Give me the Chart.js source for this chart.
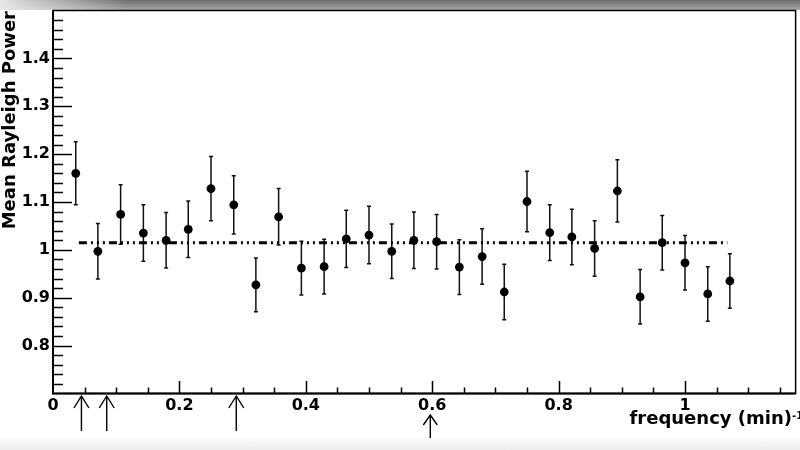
<!DOCTYPE html>
<html lang="en">
<head>
    <meta charset="UTF-8">
    <title>Mean Rayleigh Power</title>
    <script src="https://cdn.jsdelivr.net/npm/chart.js"></script>
    <style>
        html, body { margin: 0; padding: 0; background: #fff; }
        .wrap { position: relative; width: 800px; height: 450px; overflow: hidden; background: #fff; }
        .band-top { position: absolute; left: 0; top: 0; width: 800px; height: 10px;
            background: linear-gradient(to right, rgba(235,235,235,0.95), rgba(235,235,235,0) 16%),
                        linear-gradient(#6c6c6c, #a6a6a6); }
        .band-bottom { position: absolute; left: 0; top: 438px; width: 800px; height: 12px;
            background: linear-gradient(#fbfbfb, #ececec); }
        canvas { position: absolute; left: 0; top: 0; }
    </style>
</head>
<body>
<div class="wrap">
    <div class="band-top"></div>
    <div class="band-bottom"></div>
    <canvas id="rayleighChart" width="800" height="450"></canvas>
</div>
<script>
// frequency bins (min^-1) and the mean Rayleigh power in each, with 1 sigma errors
const freq = [0.036, 0.071, 0.107, 0.143, 0.179, 0.214, 0.250, 0.286, 0.321, 0.357,
              0.393, 0.429, 0.464, 0.500, 0.536, 0.571, 0.607, 0.643, 0.679, 0.714,
              0.750, 0.786, 0.821, 0.857, 0.893, 0.929, 0.964, 1.000, 1.036, 1.071];
const power = [1.160, 0.997, 1.074, 1.035, 1.020, 1.043, 1.128, 1.094, 0.927, 1.069,
               0.962, 0.965, 1.023, 1.031, 0.997, 1.020, 1.017, 0.964, 0.986, 0.912,
               1.101, 1.036, 1.027, 1.003, 1.123, 0.902, 1.015, 0.973, 0.908, 0.935];
const powerErr = [0.066, 0.058, 0.062, 0.059, 0.058, 0.059, 0.067, 0.061, 0.056, 0.059,
                  0.056, 0.057, 0.060, 0.060, 0.057, 0.059, 0.057, 0.057, 0.058, 0.058,
                  0.063, 0.058, 0.058, 0.058, 0.065, 0.057, 0.057, 0.057, 0.057, 0.057];

// average level (dash-dot-dot-dot line) and the span it covers
const meanLevel = 1.015;
const meanFrom = 0.041;
const meanTo = 1.067;

// marked frequencies (arrows under the axis)
const arrowFreqs = [0.045, 0.085, 0.29, 0.597];

const xTickValues = [0, 0.2, 0.4, 0.6, 0.8, 1];
const yTickValues = [0.8, 0.9, 1, 1.1, 1.2, 1.3, 1.4];

const FONT = '"DejaVu Sans", "Liberation Sans", Arial, sans-serif';
const fmt = v => String(+v.toFixed(2));

// ROOT style frame: inward ticks, labels, titles and the arrows below the x axis
const rootFrame = {
    id: 'rootFrame',
    beforeDatasetsDraw(chart) {
        const {ctx, scales: {x, y}} = chart;
        ctx.save();
        ctx.strokeStyle = '#111';
        ctx.lineWidth = 1.5;
        freq.forEach((f, i) => {
            const px = x.getPixelForValue(f);
            const top = y.getPixelForValue(power[i] + powerErr[i]);
            const bot = y.getPixelForValue(power[i] - powerErr[i]);
            ctx.beginPath();
            ctx.moveTo(px, top); ctx.lineTo(px, bot);
            ctx.moveTo(px - 2, top); ctx.lineTo(px + 2, top);
            ctx.moveTo(px - 2, bot); ctx.lineTo(px + 2, bot);
            ctx.stroke();
        });
        ctx.restore();
    },
    afterDraw(chart) {
        const {ctx, chartArea: a, scales: {x, y}} = chart;
        ctx.save();
        ctx.strokeStyle = '#000';
        ctx.fillStyle = '#000';

        // box
        ctx.lineWidth = 1.5;
        ctx.strokeRect(a.left, a.top, a.right - a.left, a.bottom - a.top);
        ctx.lineWidth = 2;
        ctx.beginPath();
        ctx.moveTo(a.left, a.top); ctx.lineTo(a.left, a.bottom); ctx.lineTo(a.right, a.bottom);
        ctx.stroke();

        // y ticks every 0.02, long ones every 0.1
        ctx.lineWidth = 1.5;
        ctx.beginPath();
        for (let k = 36; k < 75; k++) {
            const py = Math.round(y.getPixelForValue(k / 50)) + 0.5;
            const len = k % 5 === 0 ? 19 : 10;
            ctx.moveTo(a.left, py); ctx.lineTo(a.left + len, py);
        }
        // x ticks every 0.05, long ones every 0.2
        for (let k = 1; k * 0.05 < x.max; k++) {
            const px = Math.round(x.getPixelForValue(k / 20)) + 0.5;
            const len = k % 4 === 0 ? 12.5 : 6;
            ctx.moveTo(px, a.bottom); ctx.lineTo(px, a.bottom - len);
        }
        ctx.stroke();

        // tick labels
        ctx.font = 'bold 16px ' + FONT;
        ctx.textAlign = 'right';
        ctx.textBaseline = 'middle';
        yTickValues.forEach(v => ctx.fillText(fmt(v), a.left - 3, y.getPixelForValue(v)));
        ctx.textAlign = 'center';
        xTickValues.forEach(v => ctx.fillText(fmt(v), x.getPixelForValue(v), a.bottom + 12.5));

        // arrows
        const tips = [2.5, 2.5, 2.5, 21.5];
        const lens = [35, 35, 35, 23];
        const heads = [[7.5, 12], [7.5, 12], [7.5, 12], [7, 10]];
        ctx.lineWidth = 1.4;
        arrowFreqs.forEach((f, i) => {
            const px = x.getPixelForValue(f);
            const tip = a.bottom + tips[i];
            ctx.beginPath();
            ctx.moveTo(px, tip); ctx.lineTo(px, tip + lens[i]);
            ctx.moveTo(px - heads[i][0], tip + heads[i][1]);
            ctx.lineTo(px, tip);
            ctx.lineTo(px + heads[i][0], tip + heads[i][1]);
            ctx.stroke();
        });

        // y title
        ctx.font = 'bold 18px ' + FONT;
        ctx.textAlign = 'right';
        ctx.textBaseline = 'alphabetic';
        ctx.save();
        ctx.translate(15, a.top + 0.5);
        ctx.rotate(-Math.PI / 2);
        ctx.fillText('Mean Rayleigh Power', 0, 0);
        ctx.restore();

        // x title with superscript
        ctx.font = 'bold 10px ' + FONT;
        ctx.textAlign = 'left';
        ctx.fillText('-1', 792, 419);
        ctx.font = 'bold 18px ' + FONT;
        ctx.textAlign = 'right';
        ctx.fillText('frequency (min)', 792, 424);
        ctx.restore();
    }
};

const ctx = document.getElementById('rayleighChart').getContext('2d');
new Chart(ctx, {
    type: 'line',
    data: {
        datasets: [{
            label: 'Mean Rayleigh Power',
            data: freq.map((f, i) => ({x: f, y: power[i]})),
            showLine: false,
            pointRadius: 4.4,
            pointBackgroundColor: '#000',
            pointBorderWidth: 0,
            order: 1
        }, {
            label: 'mean',
            data: [{x: meanFrom, y: meanLevel}, {x: meanTo, y: meanLevel}],
            borderColor: '#000',
            borderWidth: 3,
            borderDash: [8, 4, 2, 4, 2, 4, 2, 4],
            pointRadius: 0,
            order: 2
        }]
    },
    options: {
        responsive: false,
        animation: false,
        events: [],
        layout: {padding: {top: 10.5, right: 2, left: 0, bottom: 0}},
        plugins: {legend: {display: false}, tooltip: {enabled: false}},
        scales: {
            x: {
                type: 'linear',
                min: 0,
                max: 1.175,
                grid: {display: false, drawTicks: false},
                border: {display: false},
                ticks: {display: false},
                afterFit: s => { s.height = 56.5; }
            },
            y: {
                type: 'linear',
                min: 0.7,
                max: 1.5,
                grid: {display: false, drawTicks: false},
                border: {display: false},
                ticks: {display: false},
                afterFit: s => { s.width = 53; }
            }
        }
    },
    plugins: [rootFrame]
});
</script>
</body>
</html>
